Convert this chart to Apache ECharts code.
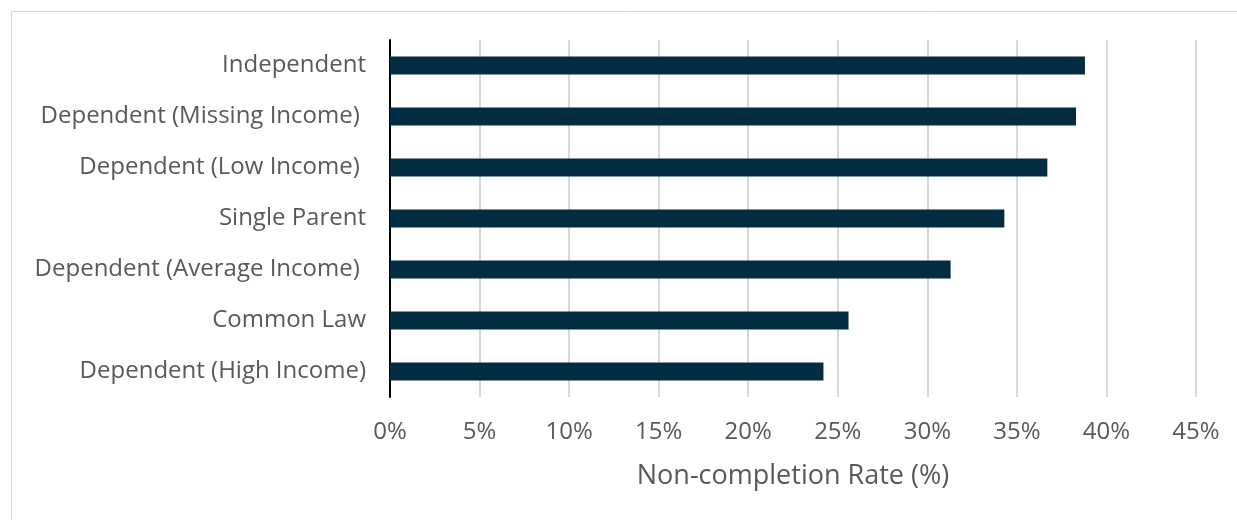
<!DOCTYPE html>
<html><head><meta charset="utf-8">
<script src="https://cdn.jsdelivr.net/npm/echarts@6/dist/echarts.min.js"></script>
<style>html,body{margin:0;padding:0;background:#fff}#c{width:1237px;height:520px}</style>
</head><body><div id="c"></div>
<script>
const categories = ["Dependent (High Income)", "Common Law", "Dependent (Average Income) ", "Single Parent", "Dependent (Low Income) ", "Dependent (Missing Income) ", "Independent"];
const values = [24.2, 25.6, 31.3, 34.3, 36.7, 38.3, 38.8];
const axisName = "Non-completion Rate (%)";
const font = "'Open Sans', 'Noto Sans', sans-serif";
const chart = echarts.init(document.getElementById('c'), null, {renderer: 'canvas'});
chart.setOption({
  animation: false,
  graphic: [{type: 'rect', shape: {x: 11.5, y: 11.5, width: 1300, height: 600}, style: {fill: 'none', stroke: '#d9d9d9', lineWidth: 1}, silent: true}],
  grid: {left: 390, right: 41, top: 40, bottom: 123, containLabel: false},
  xAxis: {
    type: 'value', min: 0, max: 45, interval: 5,
    axisLabel: {formatter: v => v + '%', color: '#595959', fontSize: 24, fontFamily: font, margin: 23},
    splitLine: {show: true, lineStyle: {color: '#d9d9d9', width: 2}},
    axisLine: {show: false}, axisTick: {show: false},
    name: axisName, nameLocation: 'middle', nameGap: 66,
    nameTextStyle: {color: '#595959', fontSize: 27, fontFamily: font}
  },
  yAxis: {
    type: 'category', data: categories,
    axisLine: {show: true, lineStyle: {color: '#000', width: 2}},
    axisTick: {show: false},
    axisLabel: {color: '#595959', fontSize: 24, fontFamily: font, margin: 24, padding: [4, 0, 0, 0]}
  },
  series: [{type: 'bar', data: values, barWidth: 18, itemStyle: {color: '#022c41'}}]
});
</script></body></html>
